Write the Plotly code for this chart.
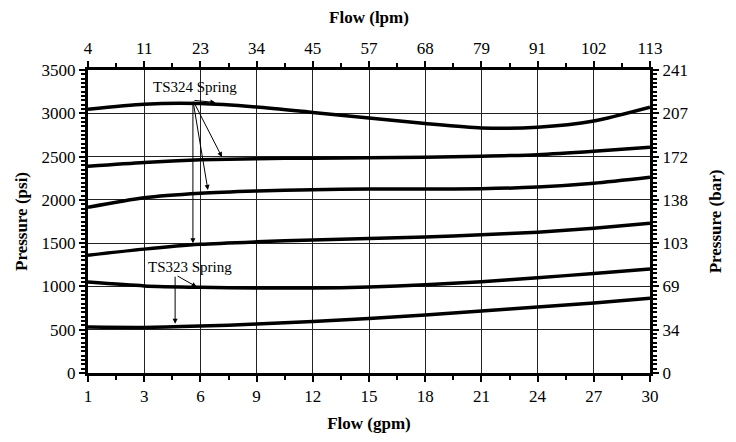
import plotly.graph_objects as go

# Flow axis positions (gpm scale; first label "1" sits at the origin)
flow_pos = [0, 3, 6, 9, 12, 15, 18, 21, 24, 27, 30]
gpm_labels = ["1", "3", "6", "9", "12", "15", "18", "21", "24", "27", "30"]
lpm_labels = ["4", "11", "23", "34", "45", "57", "68", "79", "91", "102", "113"]

psi_ticks = [0, 500, 1000, 1500, 2000, 2500, 3000, 3500]
bar_labels = ["0", "34", "69", "103", "138", "172", "207", "241"]

# Pressure curves (psi) read at each flow position
ts324_a = [3046, 3105, 3112, 3072, 3010, 2945, 2882, 2830, 2838, 2910, 3069]
ts324_b = [2388, 2432, 2462, 2476, 2482, 2486, 2492, 2504, 2522, 2561, 2608]
ts324_c = [1915, 2025, 2077, 2103, 2118, 2125, 2125, 2128, 2148, 2192, 2261]
ts324_d = [1361, 1431, 1486, 1515, 1537, 1555, 1572, 1596, 1627, 1673, 1731]
ts323_a = [1050, 1006, 990, 982, 982, 992, 1018, 1055, 1100, 1150, 1200]
ts323_b = [531, 527, 542, 565, 595, 630, 669, 715, 762, 808, 865]

curves = [ts324_a, ts324_b, ts324_c, ts324_d, ts323_a, ts323_b]

SERIF = "Liberation Serif"

fig = go.Figure()
for c in curves:
    fig.add_trace(go.Scatter(x=flow_pos, y=c, mode="lines",
                             line=dict(color="black", width=3.5, shape="spline", smoothing=0.7),
                             showlegend=False, hoverinfo="skip"))

# invisible trace to anchor secondary axes
fig.add_trace(go.Scatter(x=[0, 30], y=[0, 3500], xaxis="x2", yaxis="y2", mode="markers",
                         marker=dict(opacity=0), showlegend=False, hoverinfo="skip"))

tickfont = dict(family=SERIF, size=17, color="black")
titlefont = dict(family=SERIF, size=17, color="black")

axis_common = dict(showline=True, linecolor="black", linewidth=3, ticks="outside",
                   tickcolor="black", tickwidth=2, zeroline=False, automargin=False)

fig.update_layout(
    width=736, height=442,
    margin=dict(l=80, r=94, t=62, b=77),
    paper_bgcolor="white", plot_bgcolor="white",
    xaxis=dict(range=[0, 30], tickmode="array", tickvals=flow_pos, ticktext=gpm_labels,
               ticklen=6, showgrid=True, gridcolor="#222", gridwidth=1,
               minor=dict(tick0=0, dtick=1.5, ticks="outside", ticklen=4, tickwidth=2, tickcolor="black", showgrid=False),
               title=dict(text="<b>Flow (gpm)</b>", font=titlefont, standoff=12),
               tickfont=tickfont, tickprefix="<b>", ticksuffix="</b>", **axis_common),
    xaxis2=dict(range=[0, 30], overlaying="x", side="top", anchor="y", tickmode="array",
                tickvals=flow_pos, ticktext=lpm_labels, ticklen=6, showgrid=False,
                minor=dict(tick0=0, dtick=1.5, ticks="outside", ticklen=4, tickwidth=2, tickcolor="black", showgrid=False),
                title=dict(text="<b>Flow (lpm)</b>", font=titlefont, standoff=12),
                tickfont=tickfont, tickprefix="<b>", ticksuffix="</b>", **axis_common),
    yaxis=dict(range=[0, 3500], tickmode="array", tickvals=psi_ticks, ticklen=6,
               showgrid=True, gridcolor="#222", gridwidth=1,
               minor=dict(tick0=0, dtick=50, ticks="outside", ticklen=4, tickwidth=2, tickcolor="black", showgrid=False),
               title=dict(text="<b>Pressure (psi)</b>", font=titlefont, standoff=10),
               tickfont=tickfont, tickprefix="<b>", ticksuffix="</b>", **axis_common),
    yaxis2=dict(range=[0, 3500], overlaying="y", side="right", anchor="x", tickmode="array",
                tickvals=psi_ticks, ticktext=bar_labels, ticklen=6, showgrid=False,
                minor=dict(tick0=0, dtick=50, ticks="outside", ticklen=4, tickwidth=2, tickcolor="black", showgrid=False),
                title=dict(text="<b>Pressure (bar)</b>", font=titlefont, standoff=22),
                tickfont=tickfont, tickprefix="<b>", ticksuffix="</b>", **axis_common),
)

# Annotations: labels with arrows
ann_font = dict(family=SERIF, size=15, color="black")
fig.add_annotation(x=5.7, y=3300, text="TS324 Spring", showarrow=False, font=ann_font)
fig.add_annotation(x=5.45, y=1225, text="TS323 Spring", showarrow=False, font=ann_font)

arrow_style = dict(showarrow=True, arrowhead=2, arrowsize=1, arrowwidth=1, arrowcolor="black",
                   axref="x", ayref="y", text="")
# TS324 arrows (tail near the label)
for hx, hy in [(6.8, 3125), (7.15, 2495), (6.4, 2115), (5.6, 1500)]:
    fig.add_annotation(x=hx, y=hy, ax=5.6, ay=3150, **arrow_style)
# TS323 arrows
fig.add_annotation(x=5.8, y=995, ax=4.7, ay=1130, **arrow_style)
fig.add_annotation(x=4.65, y=570, ax=4.65, ay=1130, **arrow_style)

fig.write_html("out.html")
